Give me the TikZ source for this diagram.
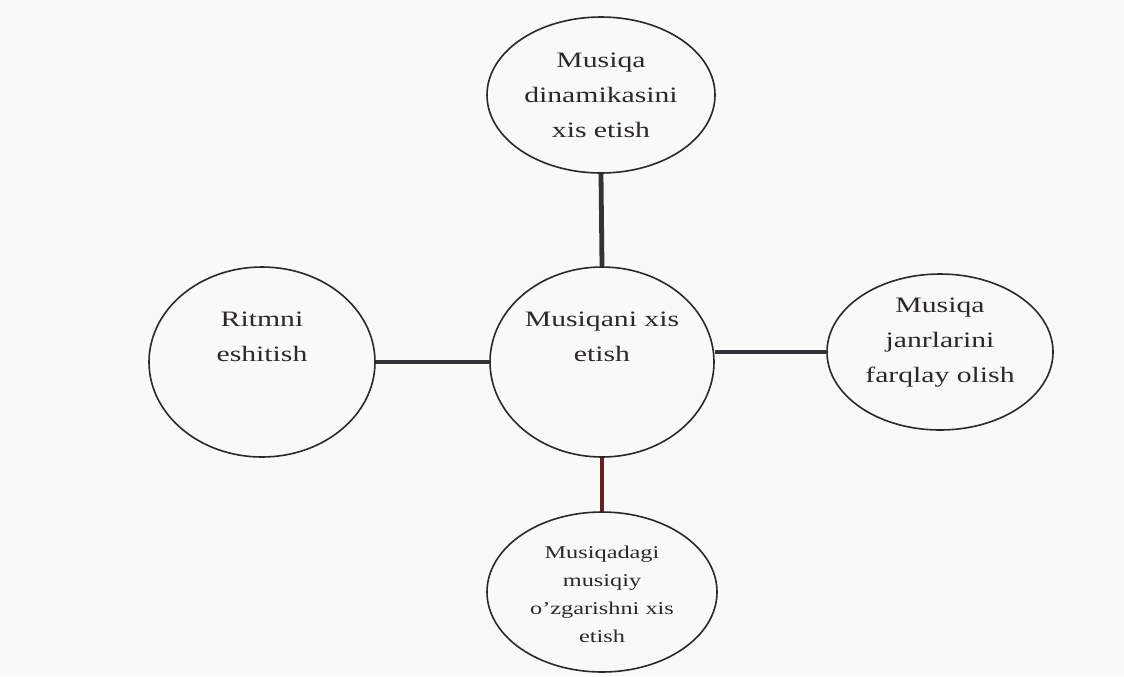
\documentclass[tikz,border=0pt]{standalone}
\usepackage{fontspec}
\setmainfont{Liberation Serif}[FakeStretch=1.35]
\usetikzlibrary{calc,shapes.geometric}
\definecolor{fg}{RGB}{44,40,40}
\definecolor{ln}{RGB}{52,50,54}
\definecolor{lnred}{RGB}{96,34,34}
\definecolor{bg}{RGB}{249,249,247}
\tikzset{
  every picture/.style={fg, line cap=butt},
  % Ellipsen
  bubble/.style={ellipse, draw=fg, line width=0.8pt, inner sep=0pt,
    minimum width=#1},
  bubble/.default=113pt,
  % Beschriftung
  lbl/.style={align=center, text=fg, inner sep=0pt,
    font=\fontsize{11}{17.5}\selectfont},
  lblsmall/.style={lbl, font=\fontsize{9}{14}\selectfont},
  % Verbindungen
  link/.style={ln, line width=2.4pt},
}
\begin{document}
\begin{tikzpicture}[x=0.5pt, y=-0.5pt]
  \fill[bg] (0,0) rectangle (1124,676);
  \useasboundingbox (0,0) rectangle (1124,676);
  % Ellipsen
  \node[bubble=114pt, minimum height=78pt] (top) at (601,95) {};
  \node[bubble=112pt, minimum height=95pt] (mid) at (602,362) {};
  \node[bubble=113pt, minimum height=95pt] (left) at (262,362) {};
  \node[bubble=113pt, minimum height=78pt] (right) at (940,352) {};
  \node[bubble=115pt, minimum height=80pt] (bottom) at (602,592) {};
  % Texte
  \node[lbl] (t-top) at (top) {Musiqa\\dinamikasini\\xis etish};
  \node[lbl] (t-mid) at ($(mid)+(0,-25)$) {Musiqani xis\\etish};
  \node[lbl] (t-left) at ($(left)+(0,-25)$) {Ritmni\\eshitish};
  \node[lbl] (t-right) at ($(right)+(0,-9)$) {Musiqa\\janrlarini\\farqlay olish};
  \node[lblsmall] (t-bottom) at ($(bottom)+(0,2)$) {Musiqadagi\\musiqiy\\o'zgarishni xis\\etish};
  % Verbindungen
  \draw[link] (top.south) -- (mid.north);
  \draw[link] (left.east) -- (mid.west);
  \draw[link] (right.west) -- (right.west -| mid.east);
  \draw[link, lnred] (mid.south) -- (bottom.north);
\end{tikzpicture}
\end{document}
